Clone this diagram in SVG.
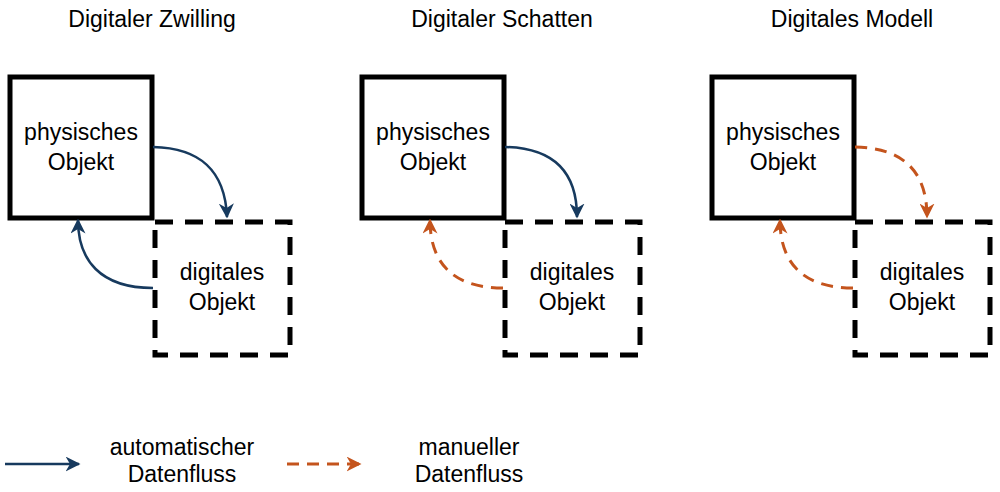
<svg xmlns="http://www.w3.org/2000/svg" width="1000" height="492" viewBox="0 0 1000 492">
<style>
text{font-family:"Liberation Sans",Arial,sans-serif;font-size:23px;fill:#000;text-anchor:middle}
.phys{fill:none;stroke:#000;stroke-width:5}
.dig{fill:none;stroke:#000;stroke-width:5;stroke-dasharray:18,12}
.auto{fill:none;stroke:#173a5e;stroke-width:2.5}
.man{fill:none;stroke:#c4541d;stroke-width:3;stroke-dasharray:12,8}
</style>
<defs>
<marker id="ab" viewBox="0 0 10 10" refX="9" refY="5" markerWidth="6" markerHeight="6" orient="auto"><path d="M0,0L10,5L0,10L3,5z" fill="#173a5e"/></marker>
<marker id="am" viewBox="0 0 10 10" refX="9" refY="5" markerWidth="5" markerHeight="5" orient="auto"><path d="M0,0L10,5L0,10L3,5z" fill="#c4541d"/></marker>
</defs>
<text x="152" y="27">Digitaler Zwilling</text>
<text x="502" y="27">Digitaler Schatten</text>
<text x="852" y="27">Digitales Modell</text>
<g id="p1"><rect class="phys" x="10" y="77" width="142" height="141"/><text x="81" y="140">physisches</text><text x="81" y="170">Objekt</text></g>
<g id="d1"><rect class="dig" x="155" y="222" width="135" height="133"/><text x="222" y="280">digitales</text><text x="222" y="310">Objekt</text></g>
<g id="p2"><rect class="phys" x="362" y="77" width="142" height="141"/><text x="433" y="140">physisches</text><text x="433" y="170">Objekt</text></g>
<g id="d2"><rect class="dig" x="505" y="222" width="135" height="133"/><text x="572" y="280">digitales</text><text x="572" y="310">Objekt</text></g>
<g id="p3"><rect class="phys" x="712" y="77" width="142" height="141"/><text x="783" y="140">physisches</text><text x="783" y="170">Objekt</text></g>
<g id="d3"><rect class="dig" x="855" y="222" width="135" height="133"/><text x="922" y="280">digitales</text><text x="922" y="310">Objekt</text></g>
<g id="connectors">
<path class="auto" d="M153,147 C200,148 225,170 227,217" marker-end="url(#ab)"/>
<path class="auto" d="M153,288 C100,288 78,260 78,220" marker-end="url(#ab)"/>
<path class="auto" d="M505,147 C552,148 577,170 577,217" marker-end="url(#ab)"/>
<path class="man" d="M503,288 C450,288 430,260 430,220" marker-end="url(#am)"/>
<path class="man" d="M855,147 C902,148 927,170 927,217" marker-end="url(#am)"/>
<path class="man" d="M853,288 C800,288 780,260 780,220" marker-end="url(#am)"/>
<path class="auto" d="M5,464 L79,464" marker-end="url(#ab)"/>
<path class="man" d="M287,464 L360,464" marker-end="url(#am)"/>
</g>
<text x="182" y="455">automatischer</text>
<text x="182" y="482">Datenfluss</text>
<text x="469" y="455">manueller</text>
<text x="469" y="482">Datenfluss</text>
</svg>
